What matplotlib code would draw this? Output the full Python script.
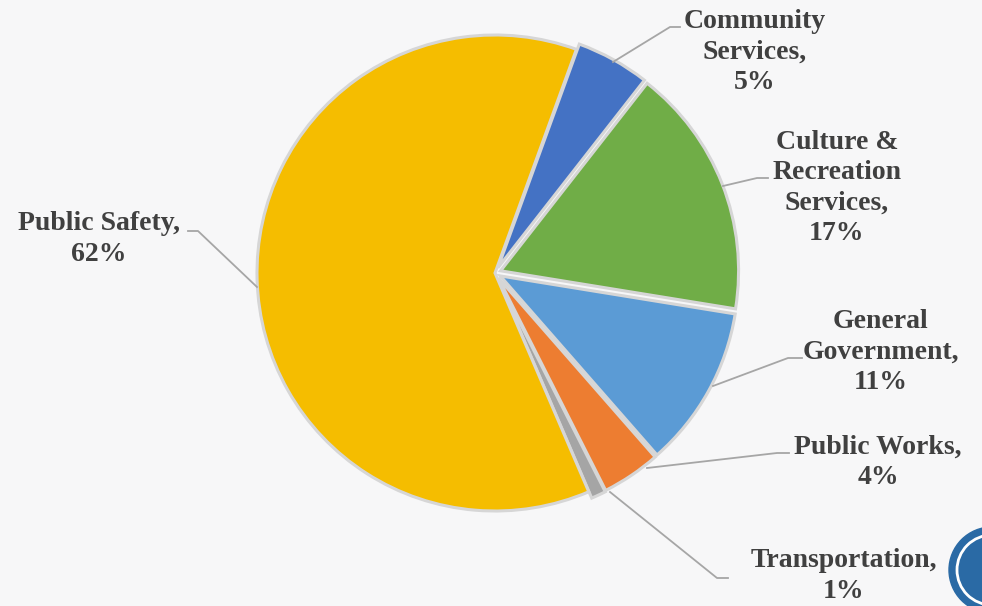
import matplotlib.pyplot as plt
from matplotlib.patches import Circle

# slices, clockwise from the top
categories = ['Community\nServices', 'Culture &\nRecreation\nServices', 'General\nGovernment',
              'Public Works', 'Transportation', 'Public Safety']
shares = [5, 17, 11, 4, 1, 62]
colors = ['#4472C4', '#70AD47', '#5B9BD5', '#ED7D31', '#A5A5A5', '#F5BD00']

W, H = 982, 606
fig = plt.figure(figsize=(9.82, 6.06), dpi=100)
fig.patch.set_facecolor('#f7f7f8')
ax = fig.add_axes([0, 0, 1, 1])

cx, cy, r = 495, H - 273, 238
explode = [6, 6, 6, 6, 7, 0]
wedges, _ = ax.pie(shares, colors=colors, startangle=70, counterclock=False,
                   center=(cx, cy), radius=r, explode=explode,
                   wedgeprops=dict(edgecolor='#d6d6d6', linewidth=2.2))
ax.set_xlim(0, W)
ax.set_ylim(0, H)
ax.set_aspect('equal')
ax.axis('off')

# label block centres and leader lines (pixel coords from top)
label_pos = [(755, 52), (837, 188), (881, 352), (878, 462), (844, 576), (99, 239)]
leaders = [
    [(613, 62), (670, 27), (680, 27)],
    [(723, 186), (757, 178), (768, 178)],
    [(713, 386), (788, 358), (802, 358)],
    [(647, 468), (777, 453), (789, 453)],
    [(610, 492), (717, 578), (728, 578)],
    [(257, 287), (198, 231), (188, 231)],
]

for cat, s, (lx, ly), pts in zip(categories, shares, label_pos, leaders):
    ax.text(lx, H - ly, f'{cat},\n{s}%', ha='center', va='center',
            fontfamily='Liberation Serif', fontweight='bold', fontsize=20,
            color='#404040', linespacing=1.27)
    ax.plot([p[0] for p in pts], [H - p[1] for p in pts], color='#a6a6a6', lw=1.3)

# corner logo
ax.add_patch(Circle((992, H - 570), 43, color='#2a6aa5', zorder=5))
ax.add_patch(Circle((992, H - 570), 35, fill=False, ec='white', lw=2, zorder=6))

fig.savefig('out.png', dpi=100, facecolor=fig.get_facecolor())
